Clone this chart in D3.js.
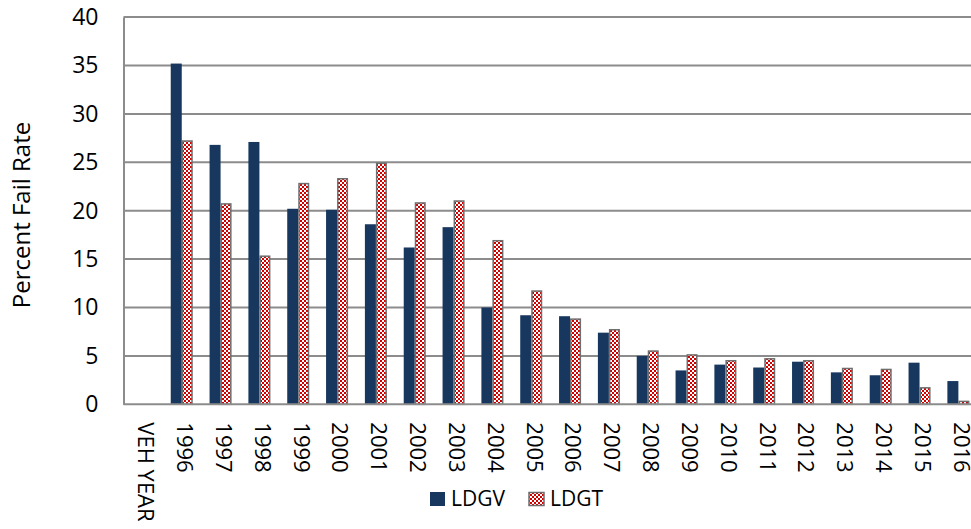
<!DOCTYPE html>
<html><head><meta charset="utf-8">
<script src="https://cdn.jsdelivr.net/npm/d3@7"></script>
<style>body{margin:0;background:#fff}svg{display:block}text{font-family:"Open Sans",sans-serif;fill:#000}</style>
</head><body>
<script>
const categories = ["VEH YEAR","1996","1997","1998","1999","2000","2001","2002","2003","2004","2005","2006","2007","2008","2009","2010","2011","2012","2013","2014","2015","2016"];
const ldgv = [null,35.2,26.8,27.1,20.2,20.1,18.6,16.2,18.3,10.0,9.2,9.1,7.4,5.0,3.5,4.1,3.8,4.4,3.3,3.0,4.3,2.4];
const ldgt = [null,27.2,20.7,15.3,22.8,23.3,24.9,20.8,21.0,16.9,11.7,8.8,7.7,5.5,5.1,4.5,4.7,4.5,3.7,3.6,1.7,0.3];
const seriesNames = ["LDGV","LDGT"];
const yTicks = [0,5,10,15,20,25,30,35,40];

(function(){
const W = 971, H = 529;
const svg = d3.select("body").append("svg").attr("width", W).attr("height", H);
const defs = svg.append("defs");
const pat = defs.append("pattern").attr("id","chk").attr("patternUnits","userSpaceOnUse")
  .attr("width",4).attr("height",4);
pat.append("rect").attr("width",4).attr("height",4).attr("fill","#fff");
pat.append("rect").attr("x",0).attr("y",0).attr("width",2).attr("height",2).attr("fill","#d00000");
pat.append("rect").attr("x",2).attr("y",2).attr("width",2).attr("height",2).attr("fill","#d00000");

const pLeft = 123.5, pRight = 977.8, pTop = 17.1, pBottom = 404.3;
const x = d3.scaleBand().domain(categories).range([pLeft, pRight]).paddingInner(0.433).paddingOuter(0.2165);
const xs = d3.scaleBand().domain(seriesNames).range([0, x.bandwidth()]);
const y = d3.scaleLinear().domain([0, 40]).range([pBottom, pTop]);

// gridlines
svg.append("g").selectAll("line").data(yTicks.filter(d => d > 0)).join("line")
  .attr("x1", pLeft).attr("x2", W).attr("y1", d => y(d)).attr("y2", d => y(d))
  .attr("stroke", "#8c8c8c").attr("stroke-width", 2);

// y axis
const ya = svg.append("g").attr("transform", `translate(${pLeft},0)`)
  .call(d3.axisLeft(y).tickValues(yTicks).tickSize(0).tickPadding(25));
ya.select(".domain").attr("stroke", "#8c8c8c").attr("stroke-width", 2);
ya.selectAll("text").style("font-size", "23px").attr("font-family", "Open Sans").attr("fill", "#000");

// bars
const data = categories.map((c, i) => ({c, v: [ldgv[i], ldgt[i]]}));
const g = svg.append("g");
data.forEach(d => {
  if (d.v[0] != null) {
    g.append("rect").attr("x", x(d.c) + xs("LDGV")).attr("width", xs.bandwidth())
      .attr("y", y(d.v[0])).attr("height", y(0) - y(d.v[0])).attr("fill", "#17375e");
  }
  if (d.v[1] != null) {
    g.append("rect").attr("x", x(d.c) + xs("LDGT") + 0.75).attr("width", xs.bandwidth() - 1.5)
      .attr("y", y(d.v[1])).attr("height", y(0) - y(d.v[1])).attr("fill", "url(#chk)")
      .attr("stroke", "#6e6e6e").attr("stroke-width", 1.5);
  }
});

// x axis
const xa = svg.append("g").attr("transform", `translate(0,${pBottom})`)
  .call(d3.axisBottom(x).tickSize(0).tickPadding(0));
xa.select(".domain").attr("stroke", "#8c8c8c").attr("stroke-width", 2).attr("d", `M${pLeft},0H${W}`);
xa.selectAll(".tick text").style("font-size", "22px").attr("font-family", "Open Sans").attr("fill", "#000")
  .attr("transform", "rotate(90)").attr("text-anchor", "start").attr("dy", "0.3em").attr("x", 18).attr("y", -2);

// y label
svg.append("text").attr("transform", "translate(30,215) rotate(-90)").attr("text-anchor", "middle")
  .style("font-size", "24px").text("Percent Fail Rate");

// legend
const lg = svg.append("g");
lg.append("rect").attr("x", 430).attr("y", 492).attr("width", 15).attr("height", 14).attr("fill", "#17375e");
lg.append("text").attr("x", 451).attr("y", 506).style("font-size", "21px").text("LDGV");
lg.append("rect").attr("x", 529).attr("y", 492.5).attr("width", 15).attr("height", 13).attr("fill", "url(#chk)")
  .attr("stroke", "#6e6e6e").attr("stroke-width", 1.5);
lg.append("text").attr("x", 550).attr("y", 506).style("font-size", "21px").text("LDGT");
})();
</script>
</body></html>
